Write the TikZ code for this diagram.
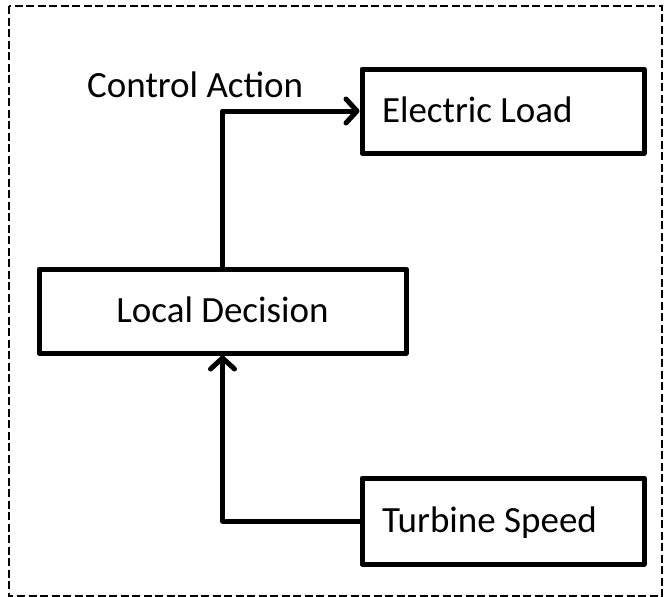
\documentclass[tikz,border=0pt]{standalone}
\usepackage{fontspec}
\setmainfont{Carlito}
\usetikzlibrary{arrows.meta}
\begin{document}
\begin{tikzpicture}[x=1pt,y=-1pt,
  every node/.style={font=\fontsize{37}{42}\selectfont},
  sidebox/.style={draw, line width=5pt, line join=round, minimum height=84pt,
    text width=242pt, align=flush left, inner xsep=20pt, inner ysep=0pt,
    text height=23.5pt, text depth=0pt},
  centerbox/.style={draw, line width=5pt, line join=round, minimum height=84pt,
    minimum width=367pt, inner sep=0pt, text height=23.5pt, text depth=0pt},
  conn/.style={line width=5pt, line join=round,
    -{Straight Barb[length=11pt,width=24pt,line join=round,line cap=round]}},
  frame/.style={line width=1.8pt, dash pattern=on 8pt off 3.5pt}
]
\useasboundingbox (0,0) rectangle (664,597);
\draw[frame] (9,6) rectangle (662,596);
\node[sidebox, minimum height=84pt] (load) at (503,111) {Electric Load};
\node[centerbox] (local) at (222.5,311) {Local Decision};
\node[sidebox, minimum height=86pt] (turb) at (503,521) {Turbine Speed};
\node[anchor=base west, inner sep=0pt] (ca) at (87,97) {Control Action};
\draw[conn] (local.north) |- (load.west);
\draw[conn] (turb.west) -| (local.south);
\end{tikzpicture}
\end{document}
